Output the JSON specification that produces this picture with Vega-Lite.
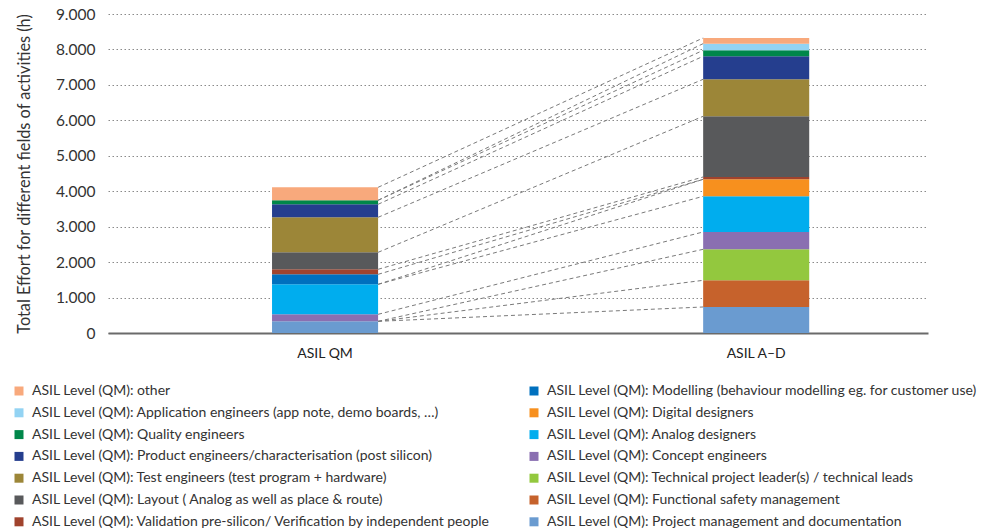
{
  "$schema": "https://vega.github.io/schema/vega-lite/v6.json",
  "width": 820,
  "height": 319,
  "autosize": {"type": "none"},
  "padding": {"left": 108, "top": 14, "right": 77, "bottom": 196},
  "background": "white",
  "config": {
    "font": "Lato",
    "view": {"stroke": null},
    "axisY": {
      "grid": true,
      "gridDash": [1.5, 2.5],
      "gridColor": "#8a8a8a",
      "gridWidth": 1,
      "domain": false,
      "ticks": false,
      "labelPadding": 13,
      "labelFontSize": 15.5,
      "labelColor": "#333333",
      "values": [0, 1000, 2000, 3000, 4000, 5000, 6000, 7000, 8000, 9000],
      "labelExpr": "replace(format(datum.value, ','), ',', '.')",
      "titleFontSize": 16.3,
      "titleFontWeight": "normal",
      "titleColor": "#333333",
      "titlePadding": 23
    },
    "axisX": {
      "domain": true,
      "domainColor": "#6a6a6a",
      "domainWidth": 2,
      "ticks": false,
      "grid": false,
      "labelAngle": 0,
      "labelFontSize": 14,
      "labelColor": "#222222",
      "labelPadding": 13
    }
  },
  "data": {
    "values": [
      {"category": "ASIL QM", "series": "ASIL Level (QM): Project management and documentation", "rank": 1, "value": 329},
      {"category": "ASIL QM", "series": "ASIL Level (QM): Functional safety management", "rank": 2, "value": 0},
      {"category": "ASIL QM", "series": "ASIL Level (QM): Technical project leader(s) / technical leads", "rank": 3, "value": 0},
      {"category": "ASIL QM", "series": "ASIL Level (QM): Concept engineers", "rank": 4, "value": 198},
      {"category": "ASIL QM", "series": "ASIL Level (QM): Analog designers", "rank": 5, "value": 846},
      {"category": "ASIL QM", "series": "ASIL Level (QM): Digital designers", "rank": 6, "value": 0},
      {"category": "ASIL QM", "series": "ASIL Level (QM): Modelling (behaviour modelling eg. for customer use)", "rank": 7, "value": 282},
      {"category": "ASIL QM", "series": "ASIL Level (QM): Validation pre-silicon/ Verification by independent people", "rank": 8, "value": 142},
      {"category": "ASIL QM", "series": "ASIL Level (QM): Layout ( Analog as well as place & route)", "rank": 9, "value": 479},
      {"category": "ASIL QM", "series": "ASIL Level (QM): Test engineers (test program + hardware)", "rank": 10, "value": 988},
      {"category": "ASIL QM", "series": "ASIL Level (QM): Product engineers/characterisation (post silicon)", "rank": 11, "value": 367},
      {"category": "ASIL QM", "series": "ASIL Level (QM): Quality engineers", "rank": 12, "value": 113},
      {"category": "ASIL QM", "series": "ASIL Level (QM): Application engineers (app note, demo boards, …)", "rank": 13, "value": 0},
      {"category": "ASIL QM", "series": "ASIL Level (QM): other", "rank": 14, "value": 366},
      {"category": "ASIL A–D", "series": "ASIL Level (QM): Project management and documentation", "rank": 1, "value": 734},
      {"category": "ASIL A–D", "series": "ASIL Level (QM): Functional safety management", "rank": 2, "value": 752},
      {"category": "ASIL A–D", "series": "ASIL Level (QM): Technical project leader(s) / technical leads", "rank": 3, "value": 875},
      {"category": "ASIL A–D", "series": "ASIL Level (QM): Concept engineers", "rank": 4, "value": 489},
      {"category": "ASIL A–D", "series": "ASIL Level (QM): Analog designers", "rank": 5, "value": 1006},
      {"category": "ASIL A–D", "series": "ASIL Level (QM): Digital designers", "rank": 6, "value": 480},
      {"category": "ASIL A–D", "series": "ASIL Level (QM): Modelling (behaviour modelling eg. for customer use)", "rank": 7, "value": 0},
      {"category": "ASIL A–D", "series": "ASIL Level (QM): Validation pre-silicon/ Verification by independent people", "rank": 8, "value": 66},
      {"category": "ASIL A–D", "series": "ASIL Level (QM): Layout ( Analog as well as place & route)", "rank": 9, "value": 1712},
      {"category": "ASIL A–D", "series": "ASIL Level (QM): Test engineers (test program + hardware)", "rank": 10, "value": 1044},
      {"category": "ASIL A–D", "series": "ASIL Level (QM): Product engineers/characterisation (post silicon)", "rank": 11, "value": 649},
      {"category": "ASIL A–D", "series": "ASIL Level (QM): Quality engineers", "rank": 12, "value": 169},
      {"category": "ASIL A–D", "series": "ASIL Level (QM): Application engineers (app note, demo boards, …)", "rank": 13, "value": 188},
      {"category": "ASIL A–D", "series": "ASIL Level (QM): other", "rank": 14, "value": 160}
    ]
  },
  "layer": [
    {
      "mark": {"type": "bar"},
      "encoding": {
        "x": {
          "field": "category",
          "type": "nominal",
          "title": null,
          "sort": ["ASIL QM", "ASIL A–D"],
          "scale": {"domain": ["ASIL QM", "ASIL A–D"], "paddingInner": 0.754, "paddingOuter": 0.328, "align": 0.58}
        },
        "y": {
          "field": "value",
          "type": "quantitative",
          "stack": "zero",
          "title": "Total Effort for different fields of activities (h)",
          "scale": {"domain": [0, 9000], "nice": false}
        },
        "order": {"field": "rank", "type": "quantitative", "sort": "ascending"},
        "color": {
          "field": "series",
          "type": "nominal",
          "scale": {
            "domain": [
              "ASIL Level (QM): other",
              "ASIL Level (QM): Application engineers (app note, demo boards, …)",
              "ASIL Level (QM): Quality engineers",
              "ASIL Level (QM): Product engineers/characterisation (post silicon)",
              "ASIL Level (QM): Test engineers (test program + hardware)",
              "ASIL Level (QM): Layout ( Analog as well as place & route)",
              "ASIL Level (QM): Validation pre-silicon/ Verification by independent people",
              "ASIL Level (QM): Modelling (behaviour modelling eg. for customer use)",
              "ASIL Level (QM): Digital designers",
              "ASIL Level (QM): Analog designers",
              "ASIL Level (QM): Concept engineers",
              "ASIL Level (QM): Technical project leader(s) / technical leads",
              "ASIL Level (QM): Functional safety management",
              "ASIL Level (QM): Project management and documentation"
            ],
            "range": [
              "#F8A97C",
              "#93D3F3",
              "#00874A",
              "#253E8E",
              "#9C8638",
              "#58595B",
              "#A0432D",
              "#0070BE",
              "#F7901E",
              "#00ADEE",
              "#8A6FB1",
              "#93C83E",
              "#C6622C",
              "#6A9BD0"
            ]
          },
          "legend": {
            "orient": "none",
            "legendX": -96,
            "legendY": 370,
            "columns": 2,
            "columnPadding": 36,
            "rowPadding": 7.8,
            "symbolType": "square",
            "symbolSize": 81,
            "symbolStrokeWidth": 0,
            "labelFontSize": 14,
            "labelColor": "#333333",
            "labelLimit": 700,
            "labelOffset": 6,
            "title": null
          }
        }
      }
    },
    {
      "transform": [
        {"window": [{"op": "sum", "field": "value", "as": "cum"}], "groupby": ["category"], "sort": [{"field": "rank"}], "frame": [null, 0]},
        {"pivot": "category", "value": "cum", "groupby": ["series"]}
      ],
      "mark": {"type": "rule", "strokeDash": [4, 3], "color": "#7a7a7a", "strokeWidth": 1},
      "encoding": {
        "x": {"datum": "ASIL QM", "type": "nominal", "bandPosition": 1, "title": null},
        "x2": {"datum": "ASIL A–D", "bandPosition": 0},
        "y": {"field": "ASIL QM", "type": "quantitative", "title": "Total Effort for different fields of activities (h)"},
        "y2": {"field": "ASIL A–D"}
      }
    }
  ]
}
